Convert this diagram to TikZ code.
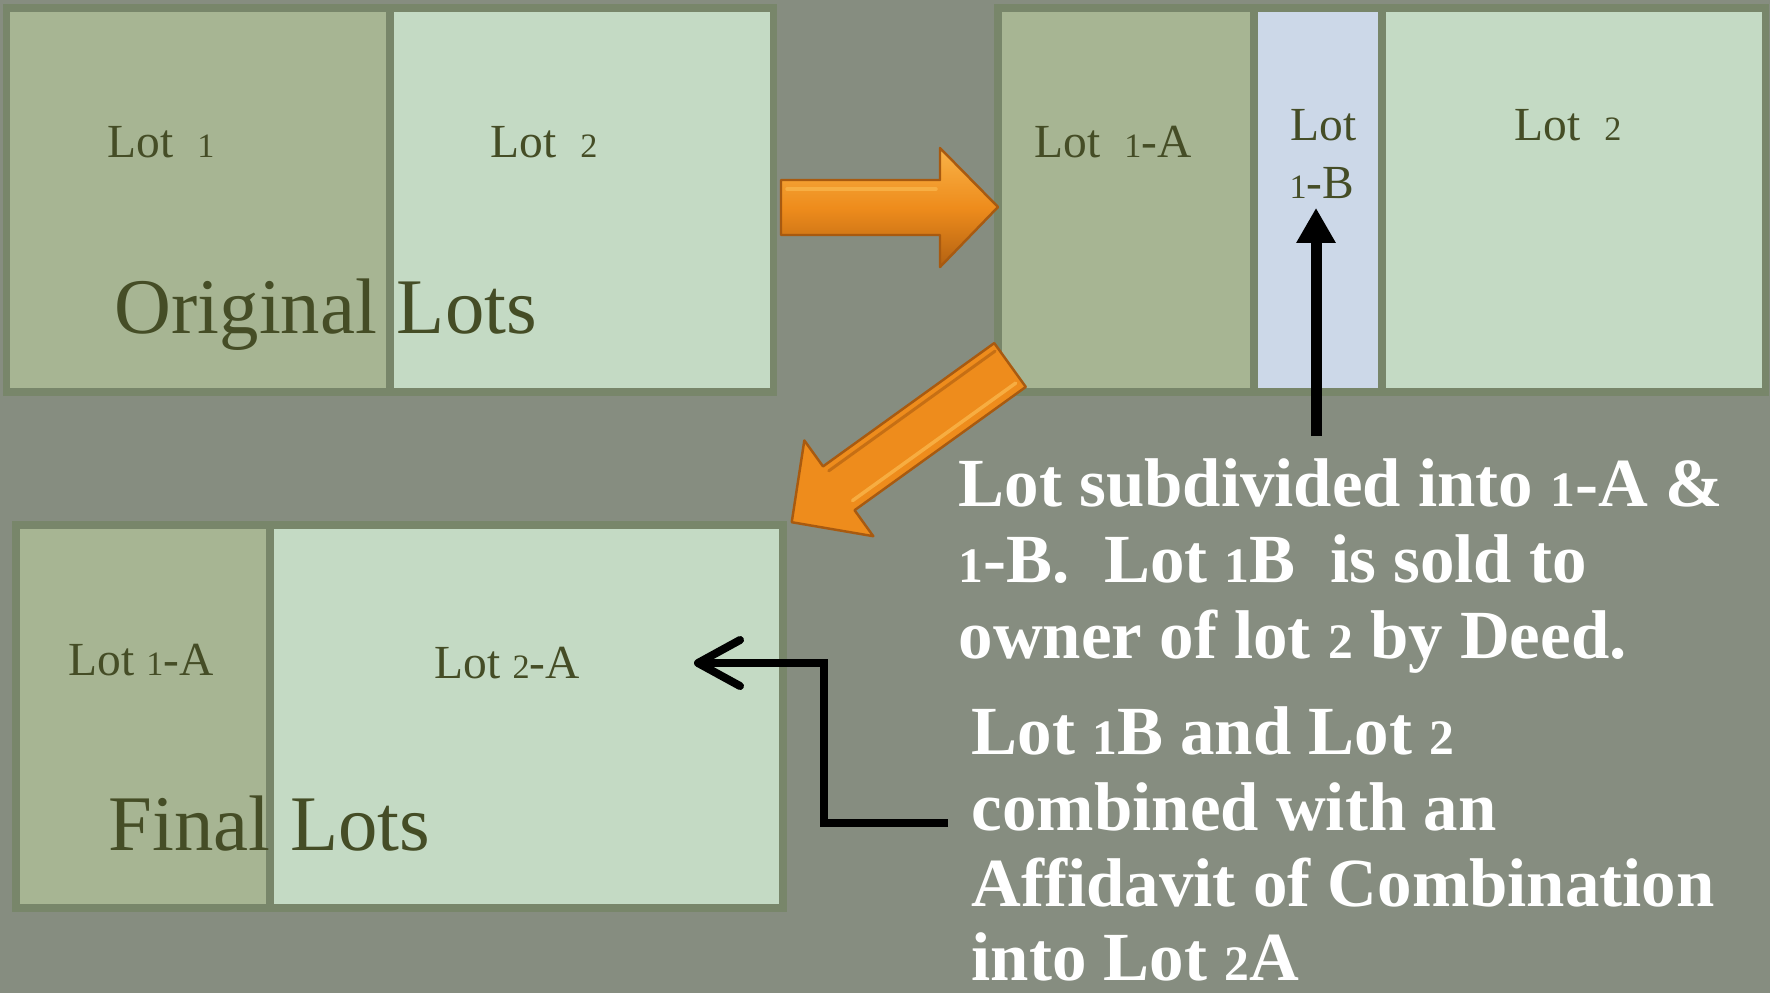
\documentclass[tikz,border=0pt]{standalone}
\usepackage{fontspec}
\setmainfont{Liberation Serif}
\usepackage{graphicx}
\usetikzlibrary{arrows.meta}
\definecolor{bgc}{HTML}{868D80}
\definecolor{brd}{HTML}{78866A}
\definecolor{lotA}{HTML}{A7B593}
\definecolor{lotB}{HTML}{C4DAC4}
\definecolor{lotC}{HTML}{CCD8E8}
\definecolor{ink}{HTML}{454D26}
\definecolor{orgA}{HTML}{EE8C1C}
\definecolor{orgL}{HTML}{F9B348}
\definecolor{orgD}{HTML}{A85A10}
\newcommand\osf[1]{\scalebox{0.72}{#1}}
\begin{document}
\begin{tikzpicture}[x=0.01cm,y=-0.01cm,
  blockbox/.style={fill=brd,draw=none,inner sep=0pt,anchor=north west},
  lotbox/.style={fill=#1,draw=none,inner sep=0pt,anchor=north west},
  lbl/.style={text=ink,font=\fontsize{13.5}{16}\selectfont,inner sep=0pt,anchor=base west},
  big/.style={text=ink,font=\fontsize{22.4}{26}\selectfont,inner sep=0pt,anchor=base west},
  note/.style={text=white,font=\bfseries\fontsize{19.6}{22}\selectfont,inner sep=0pt,anchor=base west},
  oarrow/.style={draw=orgD,line width=0.7pt,line join=round,
    top color=orgL,bottom color=orgD!85!orgA,middle color=orgA},
  oflat/.style={draw=orgD,line width=0.7pt,line join=round,fill=orgA},
  ohl/.style={draw=orgL,line width=0.35mm,line cap=round,opacity=0.85},
  blk/.style={draw=black,line width=1mm}]
\useasboundingbox (0,0) rectangle (1770,993);
\fill[bgc] (0,0) rectangle (1770,993);

% ---- original lots
\node[blockbox,minimum width=7.74cm,minimum height=3.92cm] (blkO) at (2,3) {};
\node[lotbox=lotA,minimum width=3.76cm,minimum height=3.76cm] (o1) at (9,11) {};
\node[lotbox=lotB,minimum width=3.76cm,minimum height=3.76cm] (o2) at (393,11) {};
\node[lbl] (to1) at (107,157) {Lot\ \ \osf{1}};
\node[lbl] (to2) at (490,157) {Lot\ \ \osf{2}};
\node[big] (tOrig) at (114,333) {Original Lots};

% ---- subdivided lots
\node[blockbox,minimum width=7.75cm,minimum height=3.92cm] (blkS) at (993,3) {};
\node[lotbox=lotA,minimum width=2.48cm,minimum height=3.76cm] (s1a) at (1001,11) {};
\node[lotbox=lotC,minimum width=1.20cm,minimum height=3.76cm] (s1b) at (1257,11) {};
\node[lotbox=lotB,minimum width=3.76cm,minimum height=3.76cm] (s2) at (1385,11) {};
\node[lbl] (ts1a) at (1034,157) {Lot\ \ \osf{1}-A};
\node[lbl] (ts1b) at (1290,140) {Lot};
\node[lbl] (ts1b2) at (1289,198) {\osf{1}-B};
\node[lbl] (ts2) at (1514,140) {Lot\ \ \osf{2}};

% ---- final lots
\node[blockbox,minimum width=7.75cm,minimum height=3.91cm] (blkF) at (11,520) {};
\node[lotbox=lotA,minimum width=2.46cm,minimum height=3.75cm] (f1a) at (19,528) {};
\node[lotbox=lotB,minimum width=5.05cm,minimum height=3.75cm] (f2a) at (273,528) {};
\node[lbl] (tf1a) at (68,675) {Lot \osf{1}-A};
\node[lbl] (tf2a) at (434,678) {Lot \osf{2}-A};
\node[big] (tFinal) at (108,850) {Final Lots};

% ---- orange arrows
\path[oarrow] (781,180) -- (940,180) -- (940,148) -- (998,207) -- (940,267) -- (940,235) -- (781,235) -- cycle;
\draw[ohl] (787,189) -- (936,189);
\begin{scope}[shift={(1010,365)},rotate=215.76]
\path[oflat] (0,-27) -- (211,-27) -- (211,-59) -- (269,0) -- (211,59) -- (211,27) -- (0,27) -- cycle;
\draw[ohl] (6,-18) -- (207,-18);
\draw[draw=orgD!80!orgA,line width=0.3mm,line cap=round,opacity=0.7] (4,20) -- (209,20);
\end{scope}

% ---- black connectors
\coordinate (upS) at (1316,436);
\draw[blk,line width=1.1mm,-{Triangle[length=3.5mm,width=3.7mm]},shorten >=0.09cm] (upS) -- (upS |- ts1b2.south);
\coordinate (cmbS) at (948,823);
\coordinate (cmbK) at (824,823);
\coordinate (cmbT) at (694,663);
\draw[blk,line width=0.8mm,-{Straight Barb[length=4.2mm,width=4.6mm,round]}] (cmbS) -- (cmbK) |- (cmbT);

% ---- notes
\node[note] (n1) at (958,506) {Lot subdivided into \osf{1}-A \&};
\node[note] (n2) at (958,582) {\osf{1}-B.\ \ Lot \osf{1}B\ \ is sold to};
\node[note] (n3) at (958,658) {owner of lot \osf{2} by Deed.};
\node[note] (n4) at (971,754) {Lot \osf{1}B and Lot \osf{2}};
\node[note] (n5) at (971,830) {combined with an};
\node[note] (n6) at (971,906) {Affidavit of Combination};
\node[note] (n7) at (971,980) {into Lot \osf{2}A};
\end{tikzpicture}
\end{document}
